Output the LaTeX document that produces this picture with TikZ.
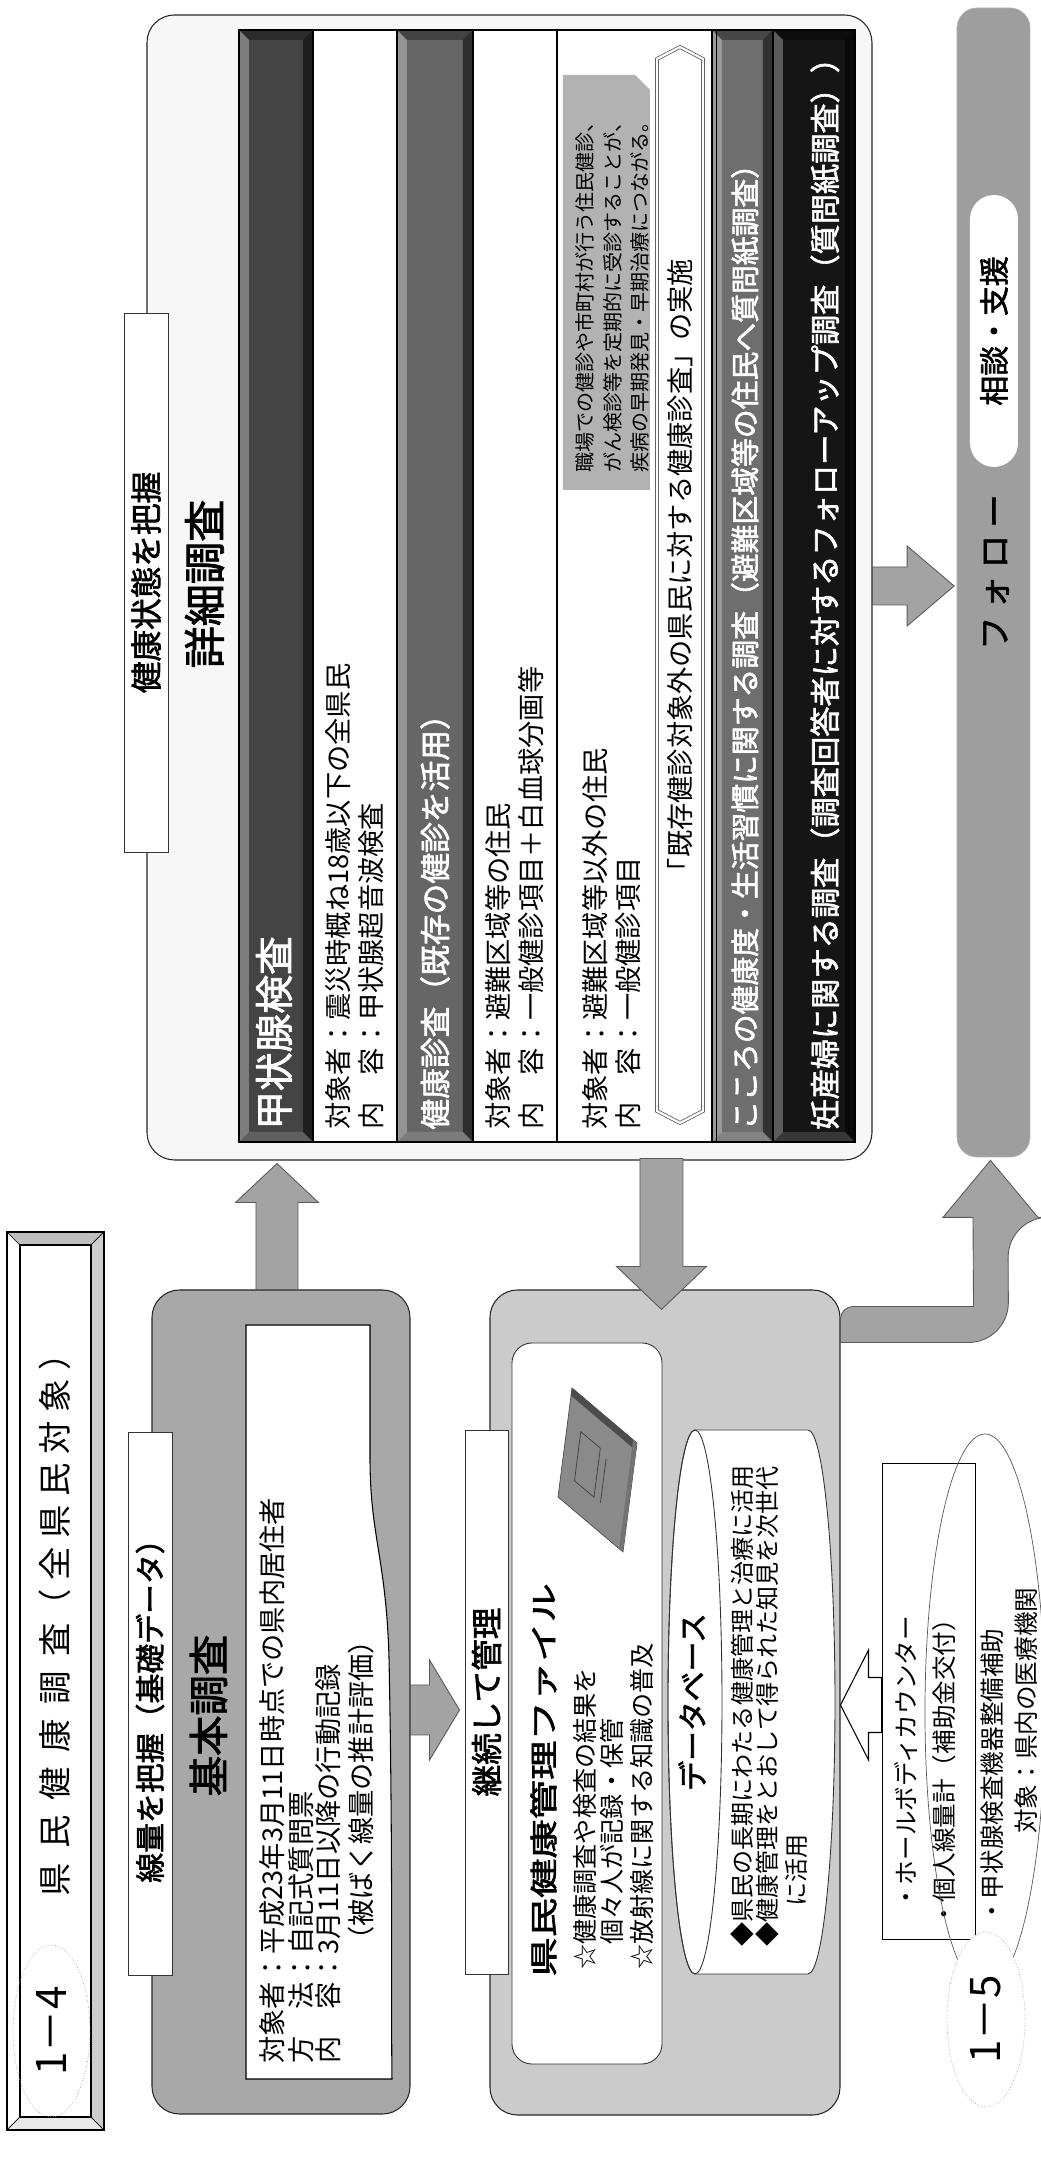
\documentclass[tikz,border=0pt]{standalone}
\usepackage{fontspec}
\setmainfont{Noto Sans CJK JP}[AutoFakeBold=2]
\usepackage{graphicx}
\usepackage{tikz}
\usetikzlibrary{calc,shapes.geometric}
\definecolor{panelc}{HTML}{F7F7F7}
\definecolor{shellc}{HTML}{A8A8A8}
\definecolor{mgmtc}{HTML}{CBCBCB}
\definecolor{followc}{HTML}{9E9E9E}
\definecolor{arrowc}{HTML}{A3A3A3}
\definecolor{arrowd}{HTML}{5A5A5A}
\definecolor{thyc}{HTML}{444444}
\definecolor{chkc}{HTML}{666666}
\definecolor{mindc}{HTML}{6E6E6E}
\definecolor{pregc}{HTML}{151515}
\definecolor{callc}{HTML}{B2B2B2}
\definecolor{bookc}{HTML}{8A8A8A}
\newcommand{\fsz}[1]{\fontsize{#1}{#1}\selectfont}
\newcommand{\bevelbar}[5]{%
  \fill[#5] (#1,#2) rectangle (#3,#4);
  \fill[white,opacity=.3] (#1,#4) -- (#3,#4) -- ({#3-10},{#4-10}) -- ({#1+10},{#4-10}) -- cycle;
  \fill[white,opacity=.15] (#1,#2) -- ({#1+10},{#2+10}) -- ({#1+10},{#4-10}) -- (#1,#4) -- cycle;
  \fill[black,opacity=.55] (#1,#2) -- (#3,#2) -- ({#3-10},{#2+10}) -- ({#1+10},{#2+10}) -- cycle;
  \fill[black,opacity=.35] (#3,#2) -- (#3,#4) -- ({#3-10},{#4-10}) -- ({#3-10},{#2+10}) -- cycle;
  \draw[black,line width=0.6pt] (#1,#2) rectangle (#3,#4);}
\newcommand{\blockarrow}[6][]{%
  \coordinate (ba-b) at ($(#3)!#6*0.02cm!(#2)$);
  \filldraw[#1] ($(#2)!#4*0.02cm!90:(#3)$)
    -- ($(ba-b)!#4*0.02cm!90:(#3)$)
    -- ($(ba-b)!#5*0.02cm!90:(#3)$)
    -- (#3)
    -- ($(ba-b)!#5*0.02cm!-90:(#3)$)
    -- ($(ba-b)!#4*0.02cm!-90:(#3)$)
    -- ($(#2)!#4*0.02cm!-90:(#3)$) -- cycle;}
\tikzset{
  wh/.style 2 args={minimum width=#1*0.02cm,minimum height=#2*0.02cm,inner sep=0pt},
  shell/.style={draw=black!85,line width=0.6pt,rounded corners=0.55cm},
  tag/.style={draw=black!80,line width=0.5pt,fill=white,font=\fsz{18}\bfseries},
  ttl/.style={inner sep=0pt,font=\fsz{23}\bfseries},
  txt/.style={anchor=west,inner sep=0pt,font=\fsz{15.5}},
  bartxt/.style={anchor=west,inner sep=0pt,text=white},
  fat/.style={fill=arrowc,draw=arrowd,line width=0.5pt},
  hollow/.style={fill=white,draw=black,line width=0.6pt},
}

\begin{document}
\begin{tikzpicture}[x=0.02cm,y=0.02cm,rotate=90,transform shape]
  \fill[white] (0,0) rectangle (2157,1041);
  \useasboundingbox (0,0) rectangle (2157,1041);

  \fill[white] (27,1034) -- (925,1034) -- (912,1021) -- (40,1021) -- cycle;
  \fill[gray!18] (27,937) -- (40,950) -- (40,1021) -- (27,1034) -- cycle;
  \fill[gray!50] (925,937) -- (925,1034) -- (912,1021) -- (912,950) -- cycle;
  \fill[gray!40] (27,937) -- (925,937) -- (912,950) -- (40,950) -- cycle;
  \draw[line width=0.6pt] (27,937) rectangle (925,1034);
  \node[draw,line width=0.6pt,fill=white,wh={872}{71}] (ttlbox) at (476,985.5) {};
  \draw (27,937) -- (40,950) (925,937) -- (912,950) (27,1034) -- (40,1021) (925,1034) -- (912,1021);
  \node[anchor=west,inner sep=0pt,font=\fsz{19}] (ttltxt) at (260,986)
    {{\addfontfeature{LetterSpace=44}県民健康調査}{\addfontfeature{LetterSpace=26}（全県民対象）}};
  \node[ellipse,draw=gray!70,densely dotted,wh={172}{77},font=\fsz{24}] (n14) at (126,989.5) {1－4};

  \node[shell,fill=shellc,wh={824}{258}] (basic) at (455,760) {};
  \node[shell,fill=panelc,wh={1145}{725}] (detail) at (1569.5,531.5) {};
  \node[shell,fill=mgmtc,wh={825}{350}] (mgmt) at (454.5,376) {};

  \filldraw[fill=white,draw=black,line width=0.6pt] (78,795) -- (832,795) -- (832,671) -- (700,671)
    .. controls (620,671) and (600,655) .. (500,652) .. controls (300,648) and (150,650) .. (78,649) -- cycle;
  \node[tag,wh={543}{44},font=\fsz{17}\bfseries] (basiclbl) at (453.5,891) {線量を把握（基礎データ）};
  \node[ttl] (basicttl) at (441.5,832.5) {基本調査};
  \node[txt] (b1) at (93,768.5) {対象者：平成23年3月11日時点での県内居住者};
  \node[txt] (b2) at (93,740) {方　法：自記式質問票};
  \node[txt] (b3) at (93,712.5) {内　容：3月11日以降の行動記録};
  \node[txt] (b4) at (203,680) {（被ばく線量の推計評価）};

  \fill[white] (1015,186) rectangle (2127,802);
  \bevelbar{1015}{728}{2127}{802}{thyc}
  \bevelbar{1015}{568}{2127}{644}{chkc}
  \bevelbar{1015}{268}{2127}{329}{mindc}
  \bevelbar{1015}{186}{2127}{268}{pregc}
  \draw[line width=1.2pt] (1015,484) -- (2127,484);
  \draw[line width=0.5pt] (1015,325) -- (2127,325);
  \draw[line width=0.6pt] (1015,186) rectangle (2127,802);
  \node[tag,wh={539}{44}] (detlbl) at (1574.5,895) {健康状態を把握};
  \node[ttl,font=\fsz{24}\bfseries] (detttl) at (1573,836.5) {詳細調査};
  \node[bartxt,font=\fsz{22}\bfseries] (thy) at (1027,767) {甲状腺検査};
  \node[txt] (thy1) at (1027,703) {対象者：震災時概ね18歳以下の全県民};
  \node[txt] (thy2) at (1027,669.5) {内　容：甲状腺超音波検査};
  \node[bartxt,font=\fsz{17.5}\bfseries] (chk) at (1027,606) {健康診査（既存の健診を活用）};
  \node[txt] (chk1) at (1027,542.5) {対象者：避難区域等の住民};
  \node[txt] (chk2) at (1027,509.5) {内　容：一般健診項目＋白血球分画等};
  \node[txt] (chk3) at (1027,446) {対象者：避難区域等以外の住民};
  \node[txt] (chk4) at (1027,412.5) {内　容：一般健診項目};
  \fill[callc] (1667,391) -- (2067,391) -- (2082,406) -- (2082,478) -- (1667,478) -- cycle;
  \node[txt,font=\fsz{11.4}] (call1) at (1684,456) {職場での健診や市町村が行う住民健診、};
  \node[txt,font=\fsz{11.4}] (call2) at (1684,428) {がん検診等を定期的に受診することが、};
  \node[txt,font=\fsz{11.4}] (call3) at (1684,401) {疾病の早期発見・早期治療につながる。};
  \filldraw[fill=white,draw=gray!60!black,double=white,double distance=1.3pt,line width=0.4pt]
    (1034,361) -- (1046,384) -- (2098,384) -- (2110,361) -- (2098,338) -- (1046,338) -- cycle;
  \node[inner sep=0pt,font=\fsz{15.5}] (ext) at (1585,361) {「既存健診対象外の県民に対する健康診査」の実施};
  \node[bartxt,font=\fsz{16.4}\bfseries] (mind) at (1027,296)
    {こころの健康度・生活習慣に関する調査（避難区域等の住民へ質問紙調査）};
  \node[bartxt,font=\fsz{17.2}\bfseries] (preg) at (1027,216)
    {妊産婦に関する調査（調査回答者に対するフォローアップ調査（質問紙調査））};

  \node[draw=gray!60,fill=followc,rounded corners=0.4cm,wh={1149}{73}] (follow) at (1574.5,47.5) {};
  \node[fill=white,rounded corners=0.48cm,wh={272}{48},font=\fsz{17}\bfseries] (care) at (1826,47) {相談・支援};
  \node[inner sep=0pt,font=\fsz{19}\bfseries\addfontfeature{LetterSpace=22}] (flw) at (1585,45) {フォロー};

  \node[draw=black!80,line width=0.5pt,fill=white,rounded corners=0.4cm,wh={721}{150}] (file) at (453.5,454) {};
  \node[tag,wh={544}{43}] (mgmtlbl) at (455,554.5) {継続して管理};
  \node[anchor=west,inner sep=0pt,font=\fsz{16}\bfseries] (filettl) at (180,497.5)
    {\scalebox{1.4}[1]{県民健康管理ファイル}};
  \node[txt,font=\fsz{14.3}] (f1) at (187,456) {☆健康調査や検査の結果を};
  \node[txt,font=\fsz{14.3}] (f2) at (212,429) {個々人が記録・保管};
  \node[txt,font=\fsz{14.3}] (f3) at (187,399) {☆放射線に関する知識の普及};
  \begin{scope}[cm={-55,-65,-109,14,(769,469)}]
    \filldraw[fill=bookc,draw=black!70] (0,0) -- (1,0) -- (1,1) -- (0,1) -- cycle;
    \fill[black!70] (0,0) -- (1,0) -- (1,0.07) -- (0,0.07) -- cycle;
    \fill[black!55] (1,0) -- (1,1) -- (0.94,1) -- (0.94,0) -- cycle;
    \draw[black!75] (0.2,0.3) rectangle (0.5,0.75);
    \draw[black!75] (0.6,0.35) -- (0.6,0.75);
  \end{scope}
  \filldraw[fill=white,draw=black!80,line width=0.5pt] (183,346) -- (183,233)
    arc[start angle=180,end angle=360,x radius=272,y radius=27] -- (727,346)
    arc[start angle=0,end angle=180,x radius=272,y radius=27] -- cycle;
  \draw[black!80,line width=0.5pt] (455,346) ellipse[x radius=272,y radius=27];
  \node[inner sep=0pt,font=\fsz{17}\bfseries] (dbttl) at (455,349) {データベース};
  \node[txt,font=\fsz{13.7}] (db1) at (210,298.5) {◆県民の長期にわたる健康管理と治療に活用};
  \node[txt,font=\fsz{13.7}] (db2) at (210,273.5) {◆健康管理をとおして得られた知見を次世代};
  \node[txt,font=\fsz{13.7}] (db3) at (250,244.5) {に活用};

  \node[draw,line width=0.5pt,fill=white,wh={476}{93}] (aid) at (456,112.5) {};
  \node[txt,font=\fsz{14}] (aid1) at (247,135) {・ホールボディカウンター};
  \node[txt,font=\fsz{14}] (aid2) at (230,97) {・個人線量計（補助金交付）};
  \node[txt,font=\fsz{14}] (aid3) at (233,49) {・甲状腺検査機器整備補助};
  \node[txt,font=\fsz{14}] (aid4) at (323,15) {対象：県内の医療機関};
  \draw[gray!70!black,line width=0.4pt] (445,56) ellipse[x radius=278,y radius=60];
  \node[ellipse,draw=gray!70,densely dotted,fill=white,wh={175}{78},font=\fsz{24}] (n15) at (137.5,55) {1－5};

  \coordinate (up-s) at ($(basic.east)+(0,4)$);
  \coordinate (up-e) at ($(detail.west)+(-3,232.5)$);
  \coordinate (dn-s) at ($(basic.south)+(-8,0)$);
  \coordinate (dn-e) at ($(mgmtlbl.north)+(-8,5)$);
  \coordinate (bk-s) at ($(detail.west)+(2,-152)$);
  \coordinate (bk-e) at ($(mgmt.east)+(-20,3.5)$);
  \coordinate (fw-s) at ($(detail.south)+(1.5,0)$);
  \coordinate (fw-e) at ($(follow.north)+(-3.5,2.5)$);
  \coordinate (aid-s) at ($(aid.north)+(-4,0)$);
  \coordinate (aid-e) at ($(mgmt.south)+(-2.5,0)$);
  \coordinate (cv-s) at ($(mgmt.south east)+(-35,0)$);
  \coordinate (cv-e) at ($(follow.west)+(-3,3)$);
  \blockarrow[fat]{up-s}{up-e}{21}{41.5}{39}
  \blockarrow[fat]{dn-s}{dn-e}{25}{50}{30}
  \blockarrow[fat]{bk-s}{bk-e}{21.5}{45}{43}
  \blockarrow[fat]{fw-s}{fw-e}{19}{40}{47}
  \blockarrow[hollow]{aid-s}{aid-e}{27.5}{55}{28}
  \filldraw[fat] ($(cv-s)+(-18,0)$) [rounded corners=0.8cm] -- ($(cv-s)+(-18,-168)$)
    -- ($(cv-e)+(-57,-17.5)$) [sharp corners] -- ($(cv-e)+(-57,-47.5)$) -- (cv-e)
    -- ($(cv-e)+(-57,47.5)$) -- ($(cv-e)+(-57,17.5)$) -- ($(cv-s)+(18,-133)$)
    [rounded corners=0.25cm] -- ($(cv-s)+(18,0)$) [sharp corners] -- cycle;
\end{tikzpicture}
\end{document}
